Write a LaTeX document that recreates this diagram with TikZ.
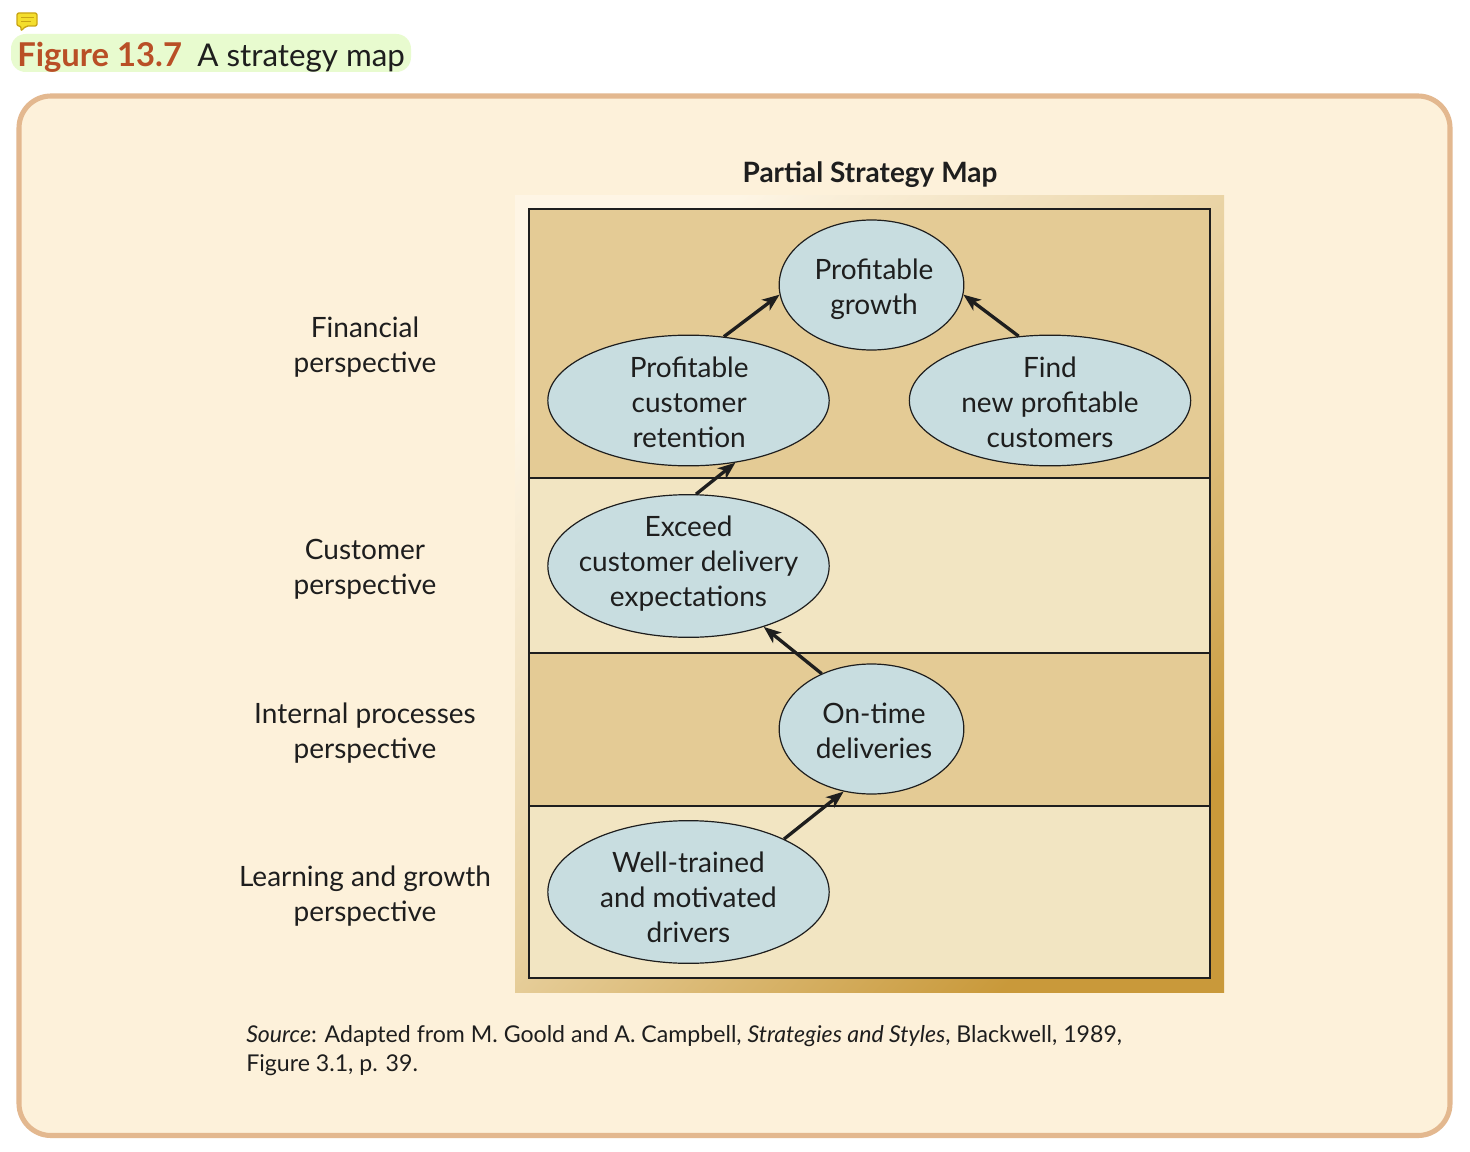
\documentclass[tikz,border=0pt]{standalone}
\usepackage{fontspec}
\setmainfont{Lato}
\usetikzlibrary{shapes.geometric,arrows.meta}
\definecolor{panel}{HTML}{FDF1DA}
\definecolor{panelline}{HTML}{E3B88F}
\definecolor{pill}{HTML}{E8FBCF}
\definecolor{titlered}{HTML}{B94F26}
\definecolor{ink}{HTML}{1E1E1E}
\definecolor{bandd}{HTML}{E4CB95}
\definecolor{bandl}{HTML}{F2E5C2}
\definecolor{goal}{HTML}{C8DDE0}
\definecolor{gold}{HTML}{C9993A}
\definecolor{iconf}{HTML}{F4DE2C}
\definecolor{iconl}{HTML}{C9A514}
\newcommand\gtext[3]{\makebox[0pt]{\hspace*{#1}\raisebox{\dimexpr#2-5.25pt\relax}[0pt][0pt]{\begin{tabular}{@{}c@{}}#3\end{tabular}}}}
\tikzset{
  px/.style={x=0.75pt,y=-0.75pt},
  goalnode/.style={ellipse,draw=ink,line width=0.9pt,fill=goal,inner sep=0pt,text=ink,font=\fontsize{21}{26.25}\selectfont},
  small/.style={goalnode,minimum width=138.5pt,minimum height=97.5pt},
  wide/.style={goalnode,minimum width=211pt,minimum height=98pt},
  tall/.style={goalnode,minimum width=211pt,minimum height=107pt},
  lab/.style={align=center,text=ink,inner sep=0pt,font=\fontsize{21}{26.25}\selectfont},
  band/.style={fill=#1,draw=ink,line width=1.7pt},
  link/.style={draw=ink,line width=2.5pt,-{Stealth[length=13pt,width=10pt,inset=3.5pt]}}
}
\begin{document}
\begin{tikzpicture}[px]
\useasboundingbox (0,0) rectangle (1470,1152);
\fill[white] (0,0) rectangle (1470,1152);
% annotation icon
\draw[iconl,line width=1pt,fill=iconf,rounded corners=1.5pt] (17,13) -- (37,13) -- (37,26) -- (26,26) -- (21,31) -- (21,26) -- (17,26) -- cycle;
\draw[iconl,line width=0.8pt] (21,17.5) -- (34,17.5) (21,21.5) -- (31,21.5);
% title
\fill[pill,rounded corners=11pt] (11,34) rectangle (411,72);
\node[anchor=base west,inner sep=0pt,text=titlered,font=\fontsize{24.6}{28}\bfseries\selectfont] (figno) at (17,67) {Figure 13.7};
\node[anchor=base west,inner sep=0pt,text=ink,font=\fontsize{23.5}{28}\selectfont] (figtitle) at (197,67) {A strategy map};
% panel
\draw[panelline,line width=3.8pt,fill=panel,rounded corners=24pt] (19,96) rectangle (1450,1135.5);
\node[anchor=base,inner sep=0pt,text=ink,font=\fontsize{21}{26}\bfseries\selectfont] (maptitle) at (870,182) {Partial Strategy Map};
% frame
\shade[top color=panel!70!white,bottom color=gold,middle color=bandd!85!panel,shading angle=45] (515,195) rectangle (1224,992);
\draw[band=bandd] (529,209) rectangle (1210,478);
\draw[band=bandl] (529,478) rectangle (1210,653);
\draw[band=bandd] (529,653) rectangle (1210,806);
\draw[band=bandl] (529,806) rectangle (1210,978);
% perspective labels
\node[lab] (l1) at (365,347) {Financial\\perspective};
\node[lab] (l2) at (365,569) {Customer\\perspective};
\node[lab] (l3) at (365,733) {Internal processes\\perspective};
\node[lab] (l4) at (365,896) {Learning and growth\\perspective};
% goals
\node[small] (pg) at (871.5,285) {\gtext{3.8pt}{-3.75pt}{Profitable\\growth}};
\node[wide] (pcr) at (688.5,400.5) {\gtext{1pt}{-3.35pt}{Profitable\\customer\\retention}};
\node[wide] (fnc) at (1050,400.5) {\gtext{0pt}{-3.35pt}{Find\\new profitable\\customers}};
\node[tall] (ex) at (688.5,566) {\gtext{0pt}{1.15pt}{Exceed\\customer delivery\\expectations}};
\node[small] (ot) at (871.5,729) {\gtext{3.8pt}{-3.75pt}{On-time\\deliveries}};
\node[tall] (wt) at (688.5,892) {\gtext{0pt}{-6pt}{Well-trained\\and motivated\\drivers}};
% links
\draw[link] (pcr.61) -- (pg.186);
\draw[link] (fnc.116.6) -- (pg.-6);
\draw[link] (ex.84.4) -- (pcr.-53.7);
\draw[link] (ot.132.8) -- (ex.-39.6);
\draw[link] (wt.29.4) -- (ot.-114.4);
% source
\node[anchor=base west,inner sep=0pt,text=ink,font=\fontsize{17.35}{21}\selectfont] (src1) at (246,1042.5) {\textit{Source}: Adapted from M. Goold and A. Campbell, \textit{Strategies and Styles}, Blackwell, 1989,};
\node[anchor=base west,inner sep=0pt,text=ink,font=\fontsize{17.35}{21}\selectfont] (src2) at (246,1071.5) {Figure 3.1, p. 39.};
\end{tikzpicture}
\end{document}
